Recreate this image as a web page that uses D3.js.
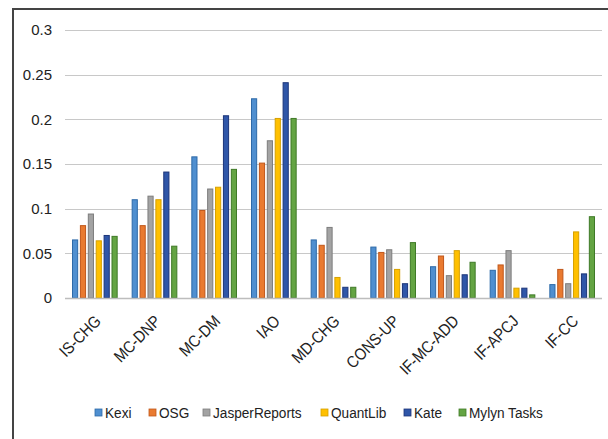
<!DOCTYPE html>
<html>
<head>
<meta charset="utf-8">
<script src="https://cdn.jsdelivr.net/npm/d3@7"></script>
<style>
  body { margin: 0; background: #fff; }
  svg { display: block; }
  text { font-family: "Liberation Sans Narrow", "Liberation Sans", sans-serif; fill: #222; }
</style>
</head>
<body>
<div id="chart"></div>
<script>
// data
const categories = ['IS-CHG', 'MC-DNP', 'MC-DM', 'IAO', 'MD-CHG', 'CONS-UP', 'IF-MC-ADD', 'IF-APCJ', 'IF-CC'];
const series = ['Kexi', 'OSG', 'JasperReports', 'QuantLib', 'Kate', 'Mylyn Tasks'];
const kexi = [0.065, 0.110, 0.158, 0.223, 0.065, 0.057, 0.035, 0.031, 0.015];
const osg = [0.081, 0.081, 0.098, 0.151, 0.059, 0.051, 0.047, 0.037, 0.032];
const jasper = [0.094, 0.114, 0.122, 0.176, 0.079, 0.054, 0.025, 0.053, 0.016];
const quantlib = [0.064, 0.110, 0.124, 0.201, 0.023, 0.032, 0.053, 0.011, 0.074];
const kate = [0.070, 0.141, 0.204, 0.241, 0.012, 0.016, 0.026, 0.011, 0.027];
const mylyn = [0.069, 0.058, 0.144, 0.201, 0.012, 0.062, 0.040, 0.0035, 0.091];
const yTicks = [0, 0.05, 0.1, 0.15, 0.2, 0.25, 0.3];

const values = [kexi, osg, jasper, quantlib, kate, mylyn];
const fills = ['#4f8fd0', '#e97a30', '#a3a3a3', '#ffc000', '#2f56a8', '#64a443'];
const strokes = ['#2e6aa8', '#c0571a', '#7d7d7d', '#d6a000', '#1c3579', '#3f7a27'];

const width = 608, height = 439;
const margin = { top: 30, right: 6, bottom: 141, left: 65 };
const squeeze = 0.88; // narrow the text a bit, the original font is condensed

const svg = d3.select('#chart').append('svg')
    .attr('width', width)
    .attr('height', height);

// chart frame (only top and left edges show in the reference)
svg.append('path')
    .attr('d', `M13,${height} V9 H${width}`)
    .attr('fill', 'none')
    .attr('stroke', '#444')
    .attr('stroke-width', 2);

const x = d3.scaleBand()
    .domain(categories)
    .range([margin.left, width - margin.right]);

const xInner = d3.scaleBand()
    .domain(series)
    .range([7, x.bandwidth() - 7])
    .paddingInner(0.22);

const y = d3.scaleLinear()
    .domain([0, 0.3])
    .range([height - margin.bottom, margin.top]);

// gridlines
svg.append('g')
    .selectAll('line')
    .data(yTicks.slice(1))
    .join('line')
    .attr('x1', margin.left)
    .attr('x2', width - margin.right)
    .attr('y1', d => Math.round(y(d)) + 0.5)
    .attr('y2', d => Math.round(y(d)) + 0.5)
    .attr('stroke', '#c8c8c8')
    .attr('stroke-width', 1.2);

// y tick labels
const yAxis = d3.axisLeft(y)
    .tickValues(yTicks)
    .tickFormat(d => d3.format('')(+d.toFixed(2)))
    .tickSize(0)
    .tickPadding(13);

svg.append('g')
    .attr('transform', `translate(${margin.left},0)`)
    .call(yAxis)
    .call(g => g.select('.domain').remove())
    .selectAll('text')
    .style('font-size', '15px')
    .attr('fill', '#222');

// bars
const groups = svg.append('g')
    .selectAll('g')
    .data(categories)
    .join('g')
    .attr('transform', d => `translate(${x(d)},0)`);

groups.selectAll('rect')
    .data((c, ci) => series.map((s, si) => ({ s, si, v: values[si][ci] })))
    .join('rect')
    .attr('x', d => xInner(d.s) + 0.5)
    .attr('y', d => y(d.v))
    .attr('width', xInner.bandwidth() - 1)
    .attr('height', d => y(0) - y(d.v))
    .attr('fill', d => fills[d.si])
    .attr('stroke', d => strokes[d.si])
    .attr('stroke-width', 1);

// baseline
svg.append('line')
    .attr('x1', margin.left)
    .attr('x2', width - margin.right)
    .attr('y1', y(0) + 0.5)
    .attr('y2', y(0) + 0.5)
    .attr('stroke', '#bdbdbd')
    .attr('stroke-width', 1.5);

// x labels, rotated
const xAxis = d3.axisBottom(x).tickSize(0).tickPadding(0);
svg.append('g')
    .attr('transform', `translate(0,${y(0) + 16})`)
    .call(xAxis)
    .call(g => g.select('.domain').remove())
    .selectAll('text')
    .style('font-size', '16.5px')
    .attr('fill', '#222')
    .attr('text-anchor', 'end')
    .attr('dy', '0.7em')
    .attr('transform', `translate(-1,0) rotate(-45) scale(${squeeze},1)`);

// legend
const legendX = [95, 149, 203, 321, 404, 459];
const legend = svg.append('g')
    .attr('transform', 'translate(0,413)');

const item = legend.selectAll('g')
    .data(series)
    .join('g')
    .attr('transform', (d, i) => `translate(${legendX[i]},0)`);

item.append('rect')
    .attr('x', 0)
    .attr('y', -4)
    .attr('width', 7)
    .attr('height', 7)
    .attr('fill', (d, i) => fills[i])
    .attr('stroke', (d, i) => strokes[i])
    .attr('stroke-width', 0.8);

item.append('text')
    .attr('transform', `translate(10,0) scale(${squeeze},1)`)
    .attr('dy', '0.35em')
    .style('font-size', '15.5px')
    .text(d => d);
</script>
</body>
</html>
